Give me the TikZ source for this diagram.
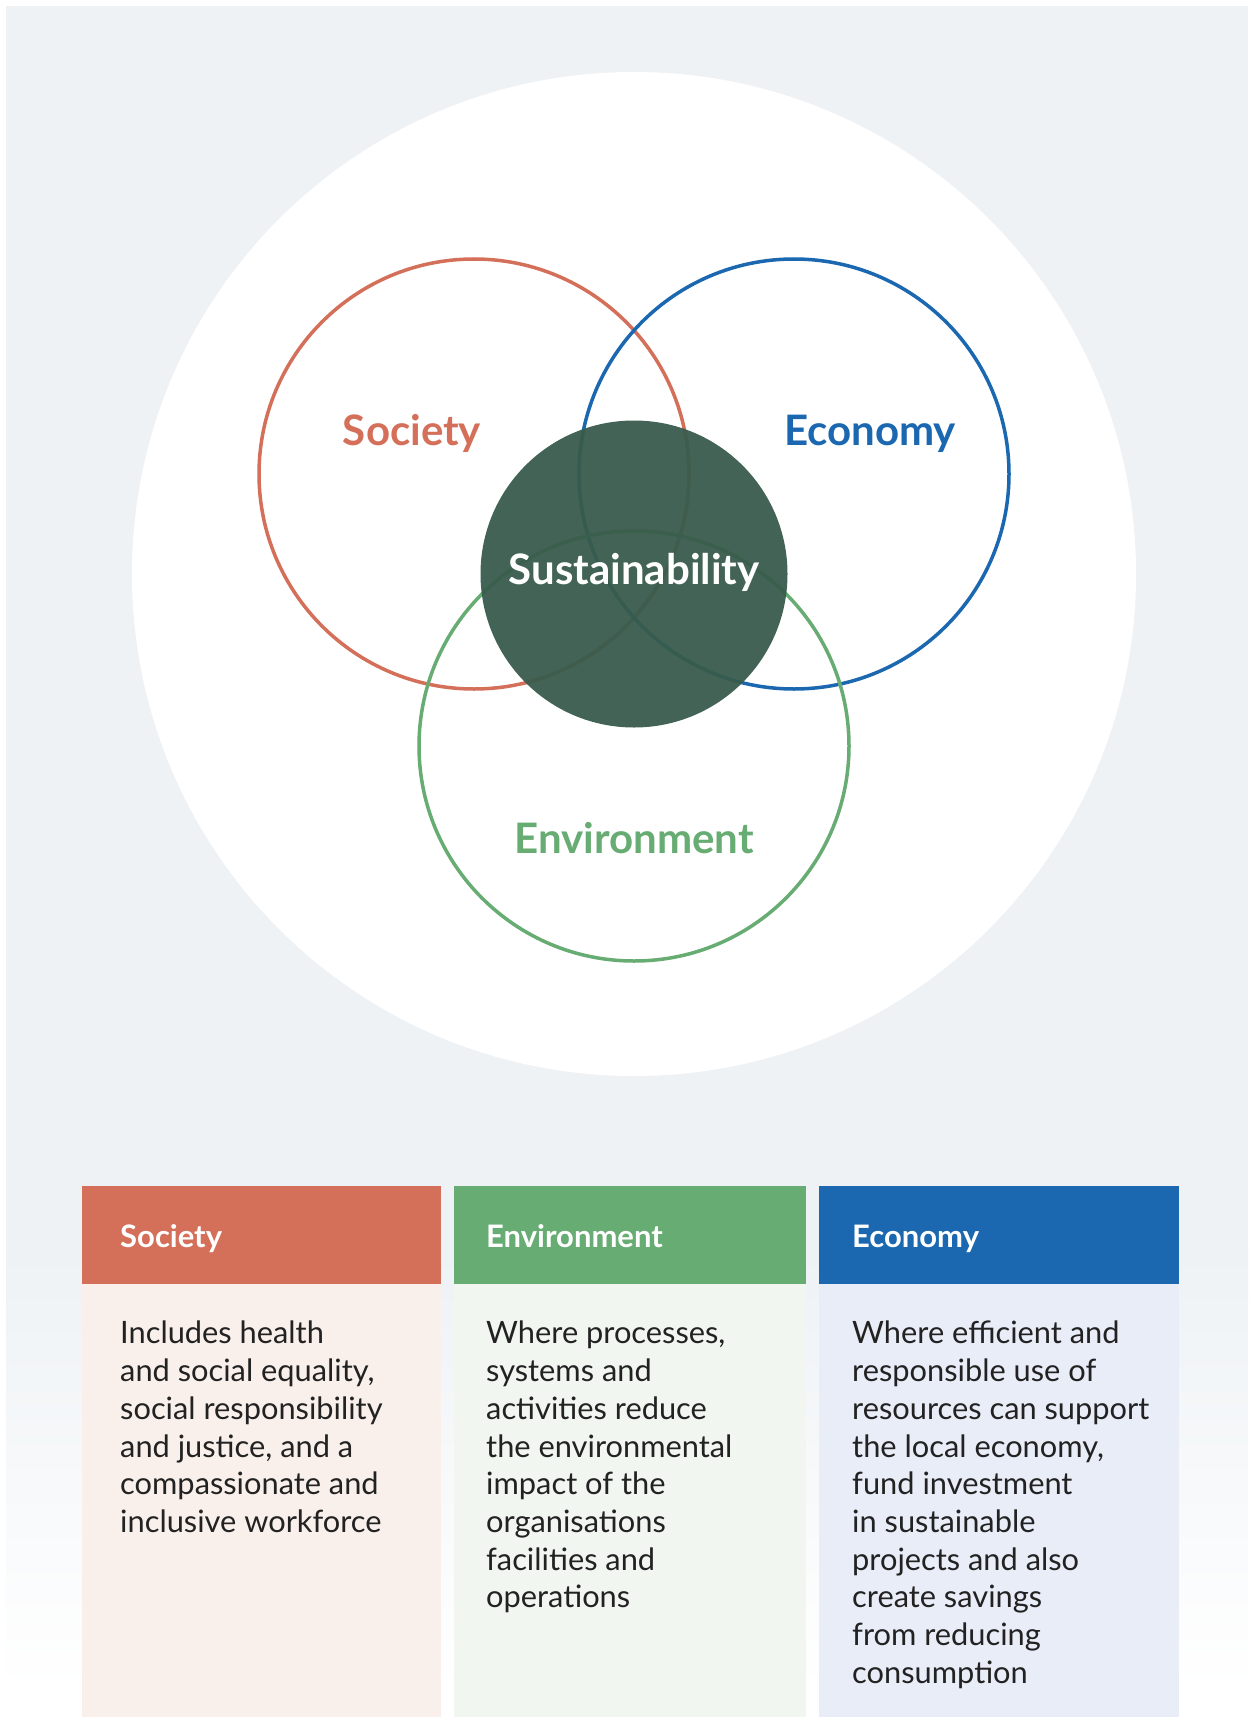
\documentclass[tikz,border=0pt]{standalone}
\usepackage{fontspec}
\setmainfont{Lato}
\definecolor{bgc}{HTML}{EEF2F5}
\definecolor{socc}{HTML}{D4705A}
\definecolor{envc}{HTML}{67AC72}
\definecolor{ecoc}{HTML}{1B68B1}
\definecolor{darkc}{HTML}{385B4C}
\definecolor{socb}{HTML}{F9F0EC}
\definecolor{envb}{HTML}{F1F6F1}
\definecolor{ecob}{HTML}{E9EDF8}
\definecolor{txtc}{HTML}{222222}
\begin{document}
\begin{tikzpicture}[x=1pt,y=-1pt,
  ring/.style={circle,draw=#1,line width=3.5pt,minimum size=430pt,inner sep=0pt},
  biglabel/.style={font=\fontsize{42}{50}\selectfont\bfseries,text=#1,inner sep=0pt,anchor=base},
  headtext/.style={font=\fontsize{31}{37}\selectfont\bfseries,text=white,inner sep=0pt,anchor=base west},
  bodytext/.style={font=\fontsize{30.8}{37.7}\selectfont,text=txtc,inner sep=0pt,anchor=north west,align=left}]
\useasboundingbox (0,0) rectangle (1248,1720);
% background
\fill[white] (0,0) rectangle (1248,1720);
\fill[bgc] (6,6) rectangle (1248,1250);
\shade[top color=bgc,bottom color=white] (6,1249) rectangle (1248,1690);
% big white circle
\node[circle,fill=white,minimum size=1004pt,inner sep=0pt] (outer) at (634,574) {};
% rings
\node[ring=socc] (socring) at (474,474) {};
\node[ring=ecoc] (ecoring) at (794,474) {};
\node[ring=envc] (envring) at (634,746) {};
% core
\node[circle,fill=darkc,fill opacity=0.95,minimum size=307pt,inner sep=0pt] (core) at (634,574) {};
% labels
\node[biglabel=socc] (soclab) at (412,445) {Society};
\node[biglabel=ecoc] (ecolab) at (870,445) {Economy};
\node[biglabel=envc] (envlab) at (634,853) {Environment};
\node[biglabel=white] (corelab) at (634,584) {Sustainability};
% boxes
\fill[socb] (82,1284) rectangle (441,1717);
\fill[envb] (454,1284) rectangle (806,1717);
\fill[ecob] (819,1284) rectangle (1179,1717);
\fill[socc] (82,1186) rectangle (441,1284);
\fill[envc] (454,1186) rectangle (806,1284);
\fill[ecoc] (819,1186) rectangle (1179,1284);
\node[headtext] (sochead) at (120,1247) {Society};
\node[headtext] (envhead) at (486,1247) {Environment};
\node[headtext] (ecohead) at (852,1247) {Economy};
\node[bodytext] (socbody) at (120,1321) {Includes health\\and social equality,\\social responsibility\\and justice, and a\\compassionate and\\inclusive workforce};
\node[bodytext] (envbody) at (486,1321) {Where processes,\\systems and\\activities reduce\\the environmental\\impact of the\\organisations\\facilities and\\operations};
\node[bodytext] (ecobody) at (852,1321) {Where efficient and\\responsible use of\\resources can support\\the local economy,\\fund investment\\in sustainable\\projects and also\\create savings\\from reducing\\consumption};
\end{tikzpicture}
\end{document}
